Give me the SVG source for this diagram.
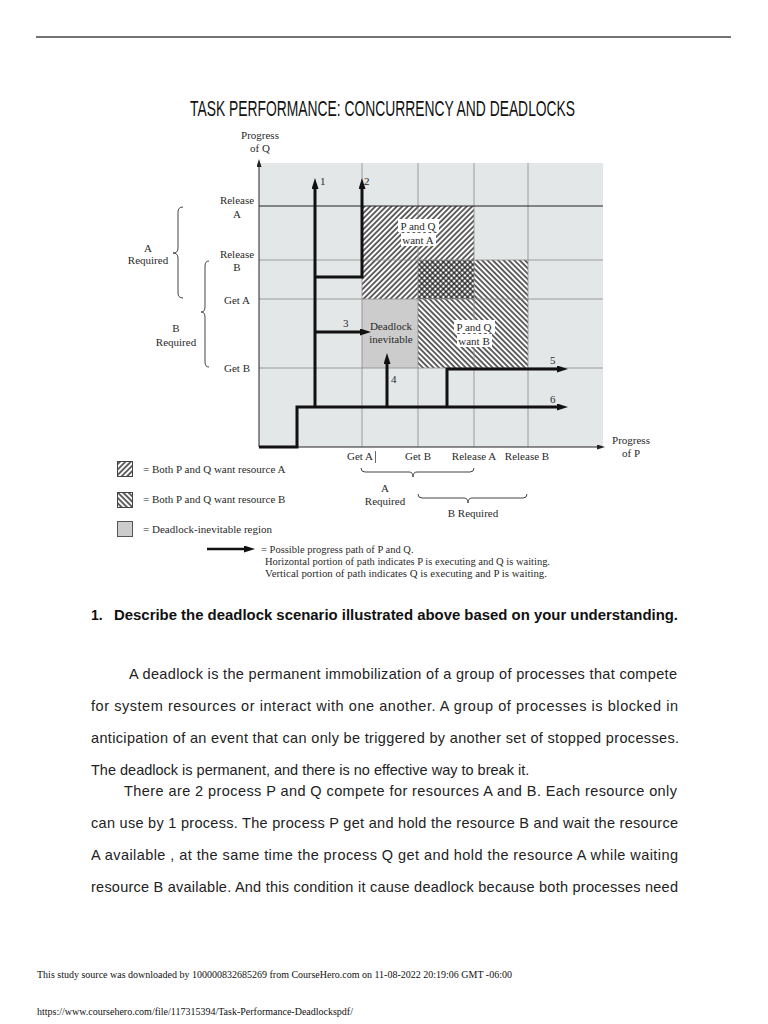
<svg xmlns="http://www.w3.org/2000/svg" width="768" height="1024" viewBox="0 0 768 1024">
<defs>
<pattern id="hf" width="3.8" height="3.8" patternUnits="userSpaceOnUse" patternTransform="rotate(45)"><rect width="3.8" height="3.8" fill="#ffffff"/><line x1="1" y1="0" x2="1" y2="3.8" stroke="#111" stroke-width="1.3"/></pattern>
<pattern id="hb" width="3.8" height="3.8" patternUnits="userSpaceOnUse" patternTransform="rotate(-45)"><rect width="3.8" height="3.8" fill="#ffffff"/><line x1="1" y1="0" x2="1" y2="3.8" stroke="#111" stroke-width="1.3"/></pattern>
<pattern id="hx" width="3.8" height="3.8" patternUnits="userSpaceOnUse" patternTransform="rotate(45)"><rect width="3.8" height="3.8" fill="#ffffff"/><line x1="1" y1="0" x2="1" y2="3.8" stroke="#111" stroke-width="1.2"/><line x1="0" y1="1" x2="3.8" y2="1" stroke="#111" stroke-width="1.2"/></pattern>
<marker id="ah" viewBox="0 0 11 7" refX="1" refY="3.5" markerWidth="11" markerHeight="7" markerUnits="userSpaceOnUse" orient="auto"><path d="M0,0 L11,3.5 L0,7 z" fill="#111"/></marker>
<marker id="ax" viewBox="0 0 8 5" refX="1" refY="2.5" markerWidth="8" markerHeight="5" markerUnits="userSpaceOnUse" orient="auto"><path d="M0,0 L8,2.5 L0,5 z" fill="#222"/></marker>
</defs>
<style>
.ch{font-family:"Liberation Serif","Times New Roman",serif;font-size:11px;fill:#2a2a2a}
.lg{font-family:"Liberation Serif","Times New Roman",serif;font-size:10.5px;fill:#2a2a2a}
.mid{text-anchor:middle}
.grid{stroke:#8a8a8a;stroke-width:0.8;fill:none}
.path{stroke:#111;stroke-width:3;fill:none}
.brace{stroke:#444;stroke-width:1;fill:none}
.body{font-family:"Liberation Sans",Arial,sans-serif;font-size:14.5px;fill:#222}
.ft{font-family:"Liberation Serif","Times New Roman",serif;font-size:10px;fill:#111}
</style>
<rect width="768" height="1024" fill="#ffffff"/>
<line x1="36" y1="37" x2="731" y2="37" stroke="#444" stroke-width="1.3"/>
<g id="title" transform="translate(190,116) scale(0.63,1)">
<text x="0" y="0" font-family="Liberation Sans,Arial,sans-serif" font-size="22" fill="#111">TASK PERFORMANCE: CONCURRENCY AND DEADLOCKS</text>
</g>

<g id="chart">
<rect x="259" y="163" width="344" height="284" fill="#e3e7e7"/>
<rect x="362" y="206" width="112" height="93" fill="url(#hf)"/>
<rect x="418" y="260" width="110" height="108" fill="url(#hb)"/>
<rect x="418" y="260" width="56" height="39" fill="url(#hx)"/>
<rect x="362" y="299" width="56" height="69" fill="#cccccc"/>
<g class="grid">
<line x1="259" y1="260" x2="603" y2="260"/>
<line x1="259" y1="299" x2="603" y2="299"/>
<line x1="259" y1="368" x2="603" y2="368"/>
<line x1="362" y1="163" x2="362" y2="447"/>
<line x1="418" y1="163" x2="418" y2="447"/>
<line x1="474" y1="163" x2="474" y2="447"/>
<line x1="528" y1="163" x2="528" y2="447"/>
</g>
<line x1="259" y1="206" x2="603" y2="206" stroke="#222" stroke-width="1"/>
</g>

<g id="axes">
<line x1="259" y1="447" x2="259" y2="166" stroke="#222" stroke-width="1" marker-end="url(#ax)"/>
<line x1="259" y1="447" x2="598" y2="447" stroke="#222" stroke-width="1" marker-end="url(#ax)"/>
<text class="ch mid" x="260" y="139">Progress</text>
<text class="ch mid" x="260" y="152">of Q</text>
<text class="ch mid" x="631" y="444">Progress</text>
<text class="ch mid" x="631" y="457">of P</text>
</g>

<g id="y-labels">
<text class="ch mid" x="237" y="204">Release</text>
<text class="ch mid" x="237" y="218">A</text>
<text class="ch mid" x="237" y="258">Release</text>
<text class="ch mid" x="237" y="271">B</text>
<text class="ch mid" x="237" y="304">Get A</text>
<text class="ch mid" x="237" y="372">Get B</text>
<path class="brace" d="M183,207 Q178,207 178,212 L178,248 Q178,253 173,253 Q178,253 178,258 L178,293 Q178,298 183,298"/>
<text class="ch mid" x="148" y="252">A</text>
<text class="ch mid" x="148" y="264">Required</text>
<path class="brace" d="M209,261 Q205,261 205,266 L205,307 Q205,312 201,312 Q205,312 205,317 L205,362 Q205,367 209,367"/>
<text class="ch mid" x="176" y="332">B</text>
<text class="ch mid" x="176" y="346">Required</text>
</g>

<g id="x-labels">
<text class="ch mid" x="360" y="460">Get A</text>
<line x1="375.5" y1="451" x2="375.5" y2="463" stroke="#444" stroke-width="0.8"/>
<text class="ch mid" x="418" y="460">Get B</text>
<text class="ch mid" x="474" y="460">Release A</text>
<text class="ch mid" x="527" y="460">Release B</text>
<path class="brace" d="M361,468 Q361,472 365,472 L409,472 Q413,472 413,477 Q413,472 417,472 L470,472 Q474,472 474,468"/>
<text class="ch mid" x="385" y="492">A</text>
<text class="ch mid" x="385" y="505">Required</text>
<path class="brace" d="M418,494 Q418,498 422,498 L464,498 Q468,498 468,503 Q468,498 472,498 L523,498 Q527,498 527,494"/>
<text class="ch mid" x="473" y="517">B Required</text>
</g>

<g id="region-labels">
<rect x="398" y="219" width="41" height="13" fill="#ffffff"/>
<rect x="401" y="233" width="35" height="13" fill="#ffffff"/>
<text class="ch mid" x="418" y="230">P and Q</text>
<text class="ch mid" x="418" y="244">want A</text>
<rect x="454" y="320" width="41" height="13" fill="#ffffff"/>
<rect x="457" y="334" width="35" height="13" fill="#ffffff"/>
<text class="ch mid" x="474" y="331">P and Q</text>
<text class="ch mid" x="474" y="345">want B</text>
<text class="ch mid" x="391" y="330">Deadlock</text>
<text class="ch mid" x="391" y="343">inevitable</text>
</g>

<g id="connectors">
<path class="path" d="M259,447 L297,447 L297,407 L558,407" marker-end="url(#ah)"/>
<path class="path" d="M315,407 L315,188" marker-end="url(#ah)"/>
<path class="path" d="M315,277 L362,277 L362,188" marker-end="url(#ah)"/>
<path class="path" d="M315,332 L361,332" marker-end="url(#ah)"/>
<path class="path" d="M387,407 L387,363" marker-end="url(#ah)"/>
<path class="path" d="M447,407 L447,369 L558,369" marker-end="url(#ah)"/>
</g>

<g id="path-labels">
<text class="ch" x="320" y="185">1</text>
<text class="ch" x="364" y="185">2</text>
<text class="ch" x="343" y="327">3</text>
<text class="ch" x="391" y="383">4</text>
<text class="ch" x="550" y="364">5</text>
<text class="ch" x="550" y="403">6</text>
</g>

<g id="legend">
<rect x="117.5" y="461.5" width="15" height="15" fill="url(#hf)" stroke="#444" stroke-width="1"/>
<text class="ch" x="143" y="472.5">= Both P and Q want resource A</text>
<rect x="117.5" y="492.5" width="15" height="15" fill="url(#hb)" stroke="#444" stroke-width="1"/>
<text class="ch" x="143" y="503">= Both P and Q want resource B</text>
<rect x="117.5" y="521.5" width="15" height="15" fill="#cccccc" stroke="#555" stroke-width="1"/>
<text class="ch" x="143" y="533">= Deadlock-inevitable region</text>
<line x1="207" y1="549" x2="245" y2="549" stroke="#111" stroke-width="2.5" marker-end="url(#ah)"/>
<text class="lg" x="261" y="552.5">= Possible progress path of P and Q.</text>
<text class="lg" x="265" y="565" textLength="285" lengthAdjust="spacingAndGlyphs">Horizontal portion of path indicates P is executing and Q is waiting.</text>
<text class="lg" x="265" y="577" textLength="282" lengthAdjust="spacingAndGlyphs">Vertical portion of path indicates Q is executing and P is waiting.</text>
</g>

<g id="text-body">
<text x="91" y="620" font-family="Liberation Sans,Arial,sans-serif" font-size="14" font-weight="bold" fill="#111">1.</text>
<text x="114" y="620" font-family="Liberation Sans,Arial,sans-serif" font-size="14" font-weight="bold" fill="#111" textLength="564" lengthAdjust="spacingAndGlyphs">Describe the deadlock scenario illustrated above based on your understanding.</text>
<text class="body" x="129" y="679" textLength="548">A deadlock is the permanent immobilization of a group of processes that compete</text>
<text class="body" x="91" y="711" textLength="587">for system resources or interact with one another. A group of processes is blocked in</text>
<text class="body" x="91" y="743" textLength="588">anticipation of an event that can only be triggered by another set of stopped processes.</text>
<text class="body" x="91" y="775">The deadlock is permanent, and there is no effective way to break it.</text>
<text class="body" x="124" y="796" textLength="553">There are 2 process P and Q compete for resources A and B. Each resource only</text>
<text class="body" x="91" y="828" textLength="587">can use by 1 process. The process P get and hold the resource B and wait the resource</text>
<text class="body" x="91" y="860" textLength="587">A available , at the same time the process Q get and hold the resource A while waiting</text>
<text class="body" x="91" y="892" textLength="587">resource B available. And this condition it cause deadlock because both processes need</text>
</g>

<g id="footer">
<text class="ft" x="37" y="978">This study source was downloaded by 100000832685269 from CourseHero.com on 11-08-2022 20:19:06 GMT -06:00</text>
<text class="ft" x="37" y="1015">https://www.coursehero.com/file/117315394/Task-Performance-Deadlockspdf/</text>
</g>
</svg>
